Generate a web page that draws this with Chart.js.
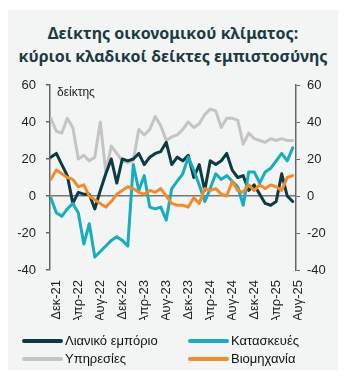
<!DOCTYPE html>
<html><head><meta charset="utf-8">
<script src="https://cdn.jsdelivr.net/npm/chart.js@4/dist/chart.umd.min.js"></script>
<style>
html,body{margin:0;padding:0;background:#fff;width:351px;height:389px;overflow:hidden;font-family:"Liberation Sans",Arial,sans-serif;}
#box{position:absolute;left:8px;top:10px;width:330px;height:360px;background:#f3f5f5;}
#title{position:absolute;left:8px;top:22px;width:330px;text-align:center;font-family:"Noto Sans",sans-serif;font-weight:700;font-size:16px;line-height:23px;color:#1c3b41;}
#wrap{position:absolute;left:0;top:0;width:351px;height:389px;}
#legend{position:absolute;left:22px;top:333px;width:320px;font-size:13px;color:#111;}
.it{position:absolute;display:flex;align-items:center;white-space:nowrap;}
.sw{width:41px;height:4px;border-radius:2px;margin-right:2px;}
</style></head><body>
<div id="box"></div>
<div id="title">Δείκτης οικονομικού κλίματος:<br>κύριοι κλαδικοί δείκτες εμπιστοσύνης</div>
<div id="wrap"><canvas id="c" width="351" height="389"></canvas></div>
<div id="legend"></div>
<script>
const months = ['Δεκ-21','Ιαν-22','Φεβ-22','Μαρ-22','Απρ-22','Μαϊ-22','Ιουν-22','Ιουλ-22','Αυγ-22','Σεπ-22','Οκτ-22','Νοε-22',
'Δεκ-22','Ιαν-23','Φεβ-23','Μαρ-23','Απρ-23','Μαϊ-23','Ιουν-23','Ιουλ-23','Αυγ-23','Σεπ-23','Οκτ-23','Νοε-23',
'Δεκ-23','Ιαν-24','Φεβ-24','Μαρ-24','Απρ-24','Μαϊ-24','Ιουν-24','Ιουλ-24','Αυγ-24','Σεπ-24','Οκτ-24','Νοε-24',
'Δεκ-24','Ιαν-25','Φεβ-25','Μαρ-25','Απρ-25','Μαϊ-25','Ιουν-25','Ιουλ-25','Αυγ-25'];
const retail = [21,23,17,11,-4,2,1,1,-7,3,12,20,7,20,19,20,23,17,21,23,24,29,17,21,19,22,10,17,3,19,17,19,23,14,10,11,3,6,1,-4,-5,-3,12,0,-3];
const construction = [-1,-9,-11,-7,-4,-9,-26,-15,-33,-30,-27,-24,-22,-24,-27,17,3,11,-6,-7,-6,-13,4,8,12,21,14,6,-3,4,12,9,11,8,5,-5,13,13,7,13,15,19,23,19,26];
const services = [42,35,34,42,37,20,22,19,21,40,13,27,23,19,18,19,36,33,36,43,38,30,32,33,36,40,37,39,44,47,46,37,42,42,41,28,34,31,30,29,31,30,31,30,30];
const industry = [9,14,12,10,9,5,6,0,-2,-4,-6,-3,1,3,5,4,2,1,3,2,4,0,-4,-5,-5,-6,-1,-4,4,3,4,1,0,8,3,2,6,3,6,4,6,5,3,10,11];
const xTickEvery = 4;
const yTicks = [-40,-20,0,20,40,60];
const seriesNames = ['Λιανικό εμπόριο','Κατασκευές','Υπηρεσίες','Βιομηχανία'];
const colors = ['#0e3a42','#17adbf','#c4c4c4','#f28a2e'];
const yLabel = 'δείκτης';

const idx = months.map((m,i)=>i);
const sets = [retail, construction, services, industry];
const orders = [3,2,4,1];
const datasets = sets.map((d,i)=>({label:seriesNames[i],data:d,borderColor:colors[i],backgroundColor:colors[i],
  borderWidth:3,pointRadius:0,tension:0,borderJoinStyle:'round',borderCapStyle:'round',order:orders[i],yAxisID:'y'}));

const tickFont = {family:'"Liberation Sans", Arial, sans-serif', size:13};
const labelPlugin = {id:'ylab', afterDraw(chart){
  const c=chart.ctx, a=chart.chartArea;
  c.save(); c.font='12px "Liberation Sans", Arial, sans-serif'; c.fillStyle='#222'; c.textBaseline='alphabetic';
  c.fillText(yLabel, a.left+7, a.top+11); c.restore();
}};

new Chart(document.getElementById('c'), {
  type:'line',
  data:{labels:idx, datasets},
  plugins:[labelPlugin],
  options:{
    responsive:false, animation:false, maintainAspectRatio:false,
    layout:{padding:{top:85,left:0,right:0,bottom:69}},
    plugins:{legend:{display:false}, tooltip:{enabled:false}, title:{display:false}},
    scales:{
      x:{type:'linear', min:-0.15, max:months.length-1+0.6,
        afterBuildTicks(s){ s.ticks = idx.filter(i=>i%xTickEvery===0).map(v=>({value:v})); },
        grid:{display:false, drawTicks:false}, border:{display:false},
        ticks:{autoSkip:false, maxRotation:90, minRotation:90, padding:10, labelOffset:6, color:'#222', font:tickFont,
          callback(v){ return months[v]; }},
        afterFit(s){ s.height = 50; }
      },
      y:{position:'left', min:-40, max:60,
        afterBuildTicks(s){ s.ticks = yTicks.map(v=>({value:v})); },
        grid:{color:(ctx)=> ctx.tick && ctx.tick.value===0 ? '#777' : 'rgba(0,0,0,0)', lineWidth:1.5, tickColor:'#666', tickLength:4, drawTicks:true},
        border:{display:true, color:'#666', width:1.5},
        ticks:{padding:10, color:'#222', font:tickFont},
        afterFit(s){ s.width = 50; }
      },
      y2:{position:'right', min:-40, max:60,
        afterBuildTicks(s){ s.ticks = yTicks.map(v=>({value:v})); },
        grid:{drawOnChartArea:false, color:'rgba(0,0,0,0)', tickColor:'#666', tickLength:4, drawTicks:true},
        border:{display:true, color:'#666', width:1.5},
        ticks:{padding:7, color:'#222', font:tickFont},
        afterFit(s){ s.width = 55; }
      }
    }
  }
});

const leg = document.getElementById('legend');
const pos = [[0,0],[166,0],[0,18],[166,18]];
seriesNames.forEach((n,i)=>{
  const d=document.createElement('div'); d.className='it'; d.style.left=pos[i][0]+'px'; d.style.top=pos[i][1]+'px';
  d.innerHTML='<span class="sw" style="background:'+colors[i]+'"></span><span>'+n+'</span>';
  leg.appendChild(d);
});
</script>
</body></html>
